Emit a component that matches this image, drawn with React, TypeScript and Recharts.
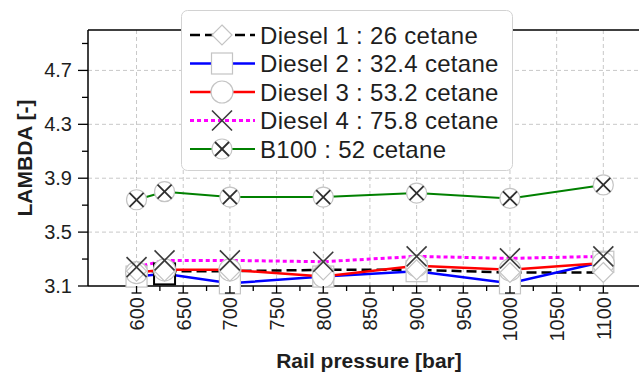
import React from "react";
import {
  LineChart,
  Line,
  XAxis,
  YAxis,
  CartesianGrid,
  ReferenceLine,
  Legend,
  Label,
} from "recharts";

// Lambda vs rail pressure for five fuels
const pressures = [600, 630, 700, 800, 900, 1000, 1100];
const diesel1 = [3.21, 3.21, 3.21, 3.22, 3.22, 3.2, 3.2];
const diesel2 = [3.17, 3.19, 3.12, 3.17, 3.21, 3.12, 3.28];
const diesel3 = [3.2, 3.22, 3.22, 3.17, 3.25, 3.22, 3.27];
const diesel4 = [3.24, 3.29, 3.29, 3.28, 3.32, 3.305, 3.32];
const b100 = [3.74, 3.8, 3.76, 3.76, 3.79, 3.75, 3.85];

const seriesNames = [
  "Diesel 1 : 26 cetane",
  "Diesel 2 : 32.4 cetane",
  "Diesel 3 : 53.2 cetane",
  "Diesel 4 : 75.8 cetane",
  "B100 : 52 cetane",
];

const xTicks = [600, 625, 650, 675, 700, 725, 750, 775, 800, 825, 850, 875, 900, 925, 950, 975, 1000, 1025, 1050, 1075, 1100];
const yTicks = [3.1, 3.3, 3.5, 3.7, 3.9, 4.1, 4.3, 4.5, 4.7, 4.9];
const xGrid = [600, 650, 700, 750, 800, 850, 900, 950, 1000, 1050, 1100];
const yGrid = [3.5, 3.9, 4.3, 4.7];

const data = pressures.map((p, i) => ({
  p,
  d1: diesel1[i],
  d2: diesel2[i],
  d3: diesel3[i],
  d4: diesel4[i],
  b100: b100[i],
}));

type MarkerKind = "diamond" | "square" | "circle" | "cross" | "circleCross";

const SERIES: {
  key: string;
  name: string;
  color: string;
  width: number;
  dash?: string;
  marker: MarkerKind;
}[] = [
  { key: "d1", name: seriesNames[0], color: "#000000", width: 2.5, dash: "10 5", marker: "diamond" },
  { key: "d2", name: seriesNames[1], color: "#0000ff", width: 2.5, marker: "square" },
  { key: "d3", name: seriesNames[2], color: "#ff0000", width: 2.5, marker: "circle" },
  { key: "d4", name: seriesNames[3], color: "#ff00ff", width: 3, dash: "4 3", marker: "cross" },
  { key: "b100", name: seriesNames[4], color: "#008000", width: 2, marker: "circleCross" },
];

// markers are painted after all lines, in this order
const MARKER_ORDER = ["d2", "d3", "d1", "d4", "b100"];

const FONT = "'Liberation Sans', Arial, sans-serif";
const SYMBOL_EDGE = "#c4c4c4";
const TEXT = "#1e1e1e";

function Marker({ kind, cx, cy, dark }: { kind: MarkerKind; cx: number; cy: number; dark?: boolean }) {
  switch (kind) {
    case "diamond":
      return (
        <polygon
          points={`${cx},${cy - 10} ${cx + 10},${cy} ${cx},${cy + 10} ${cx - 10},${cy}`}
          fill="#fff"
          stroke={SYMBOL_EDGE}
          strokeWidth={1.2}
        />
      );
    case "square":
      return (
        <rect
          x={cx - 10.5}
          y={cy - 10.5}
          width={21}
          height={21}
          fill="#fff"
          stroke={dark ? "#000" : SYMBOL_EDGE}
          strokeWidth={dark ? 2 : 1.2}
        />
      );
    case "circle":
      return <circle cx={cx} cy={cy} r={11} fill="#fff" stroke={SYMBOL_EDGE} strokeWidth={1.2} />;
    case "cross":
      return (
        <g stroke="#3a3a3a" strokeWidth={1.6}>
          <line x1={cx - 10} y1={cy - 10} x2={cx + 10} y2={cy + 10} />
          <line x1={cx - 10} y1={cy + 10} x2={cx + 10} y2={cy - 10} />
        </g>
      );
    case "circleCross":
      return (
        <g>
          <circle cx={cx} cy={cy} r={10} fill="#fff" stroke={SYMBOL_EDGE} strokeWidth={1.2} />
          <g stroke="#2e2e2e" strokeWidth={1.8}>
            <line x1={cx - 7} y1={cy - 7} x2={cx + 7} y2={cy + 7} />
            <line x1={cx - 7} y1={cy + 7} x2={cx + 7} y2={cy - 7} />
          </g>
        </g>
      );
  }
}

function YTick({ x, y, payload, index }: any) {
  const major = index % 2 === 0;
  return (
    <g>
      <line x1={x - (major ? 10 : 6)} x2={x} y1={y} y2={y} stroke="#000" strokeWidth={1.3} />
      {major && (
        <text x={x - 16} y={y} dy={7} textAnchor="end" fontSize={20} fill={TEXT} fontFamily={FONT}>
          {payload.value.toFixed(1)}
        </text>
      )}
    </g>
  );
}

function XTick({ x, y, payload }: any) {
  if (payload.value % 50 !== 0) {
    return <line x1={x} x2={x} y1={y} y2={y + 5} stroke="#000" strokeWidth={1.3} />;
  }
  return (
    <g>
      <line x1={x} x2={x} y1={y} y2={y + 7} stroke="#000" strokeWidth={1.3} />
      <line x1={x - 5} x2={x + 5} y1={y + 7} y2={y + 7} stroke="#000" strokeWidth={1.3} />
      <text
        transform={`translate(${x + 7.5}, ${y + 11}) rotate(-90)`}
        textAnchor="end"
        fontSize={20}
        fill={TEXT}
        fontFamily={FONT}
      >
        {payload.value}
      </text>
    </g>
  );
}

function LegendBox() {
  return (
    <svg width={334} height={162} style={{ display: "block" }}>
      <rect x={0.5} y={0.5} width={331} height={160} rx={6} fill="#fff" stroke="#d2d2d2" />
      {SERIES.map((s, i) => {
        const cy = 25 + i * 28.5;
        return (
          <g key={s.key}>
            <line x1={9} x2={74} y1={cy} y2={cy} stroke={s.color} strokeWidth={s.width} strokeDasharray={s.dash} />
            <Marker kind={s.marker} cx={41} cy={cy} />
            <text x={79} y={cy + 8.5} fontSize={24} letterSpacing={0.3} fill={TEXT} fontFamily={FONT}>
              {s.name}
            </text>
          </g>
        );
      })}
    </svg>
  );
}

export default function App() {
  return (
    <div
      style={{
        position: "absolute",
        left: 0,
        top: 0,
        width: 639,
        height: 375,
        overflow: "hidden",
        background: "#fff",
        fontFamily: FONT,
      }}
    >
      <LineChart width={650} height={375} data={data} margin={{ top: 30, right: 0, bottom: 9, left: 8 }}>
        <CartesianGrid
          stroke="#c8c8c8"
          strokeDasharray="4 3"
          horizontalValues={yGrid}
          verticalValues={xGrid}
        />
        <XAxis
          dataKey="p"
          type="number"
          domain={[548, 1150]}
          ticks={xTicks}
          interval={0}
          height={80}
          tickSize={0}
          tickMargin={0}
          tickLine={false}
          axisLine={{ stroke: "#000", strokeWidth: 1.5 }}
          tick={<XTick />}
        >
          <Label
            content={({ viewBox }: any) => (
              <text
                x={viewBox.x + viewBox.width / 2}
                y={368}
                textAnchor="middle"
                fontSize={21}
                fontWeight="bold"
                fill={TEXT}
                fontFamily={FONT}
              >
                Rail pressure [bar]
              </text>
            )}
          />
        </XAxis>
        <YAxis
          type="number"
          domain={[3.1, 5.0]}
          ticks={yTicks}
          interval={0}
          width={80}
          tickSize={0}
          tickMargin={0}
          tickLine={false}
          axisLine={{ stroke: "#000", strokeWidth: 1.5 }}
          tick={<YTick />}
        >
          <Label
            content={({ viewBox }: any) => {
              const cy = viewBox.y + viewBox.height / 2;
              return (
                <text
                  transform={`translate(31.5, ${cy}) rotate(-90)`}
                  textAnchor="middle"
                  fontSize={21}
                  fontWeight="bold"
                  fill={TEXT}
                  fontFamily={FONT}
                >
                  LAMBDA [-]
                </text>
              );
            }}
          />
        </YAxis>
        <ReferenceLine y={5.0} stroke="#000" strokeWidth={1.5} />

        {SERIES.map((s) => (
          <Line
            key={`line-${s.key}`}
            dataKey={s.key}
            type="linear"
            stroke={s.color}
            strokeWidth={s.width}
            strokeDasharray={s.dash}
            dot={false}
            activeDot={false}
            legendType="none"
            isAnimationActive={false}
          />
        ))}

        {MARKER_ORDER.map((k) => {
          const s = SERIES.find((e) => e.key === k)!;
          return (
            <Line
              key={`marks-${k}`}
              dataKey={k}
              stroke="none"
              zIndex={600}
              activeDot={false}
              legendType="none"
              isAnimationActive={false}
              dot={(props: any) => (
                <Marker
                  key={`${k}-${props.index}`}
                  kind={s.marker}
                  cx={props.cx}
                  cy={props.cy}
                  // the 630 bar square of Diesel 2 is outlined in black
                  dark={k === "d2" && props.index === 1}
                />
              )}
            />
          );
        })}

        <Legend
          verticalAlign="middle"
          align="center"
          layout="horizontal"
          wrapperStyle={{ left: 181, top: 10, width: 334, height: 162 }}
          content={() => <LegendBox />}
        />
      </LineChart>
    </div>
  );
}
